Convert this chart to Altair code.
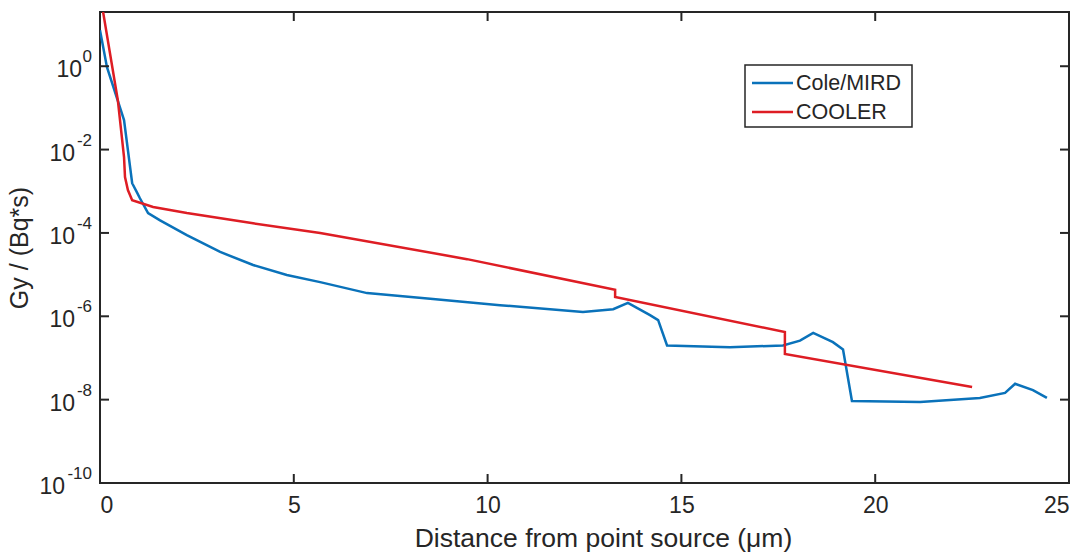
import altair as alt
import pandas as pd

# Cole/MIRD series
mird_x = [0.0, 0.18, 0.62, 0.83, 0.95, 1.03, 1.24, 1.55, 2.24, 3.10, 3.95, 4.82, 5.68,
          6.89, 8.59, 10.32, 12.46, 13.24, 13.62, 14.19, 14.40, 14.63, 16.25, 17.62,
          18.06, 18.40, 18.91, 19.17, 19.40, 21.16, 22.70, 23.35, 23.61, 24.07, 24.43]
mird_y = [7.3, 0.95, 0.051, 1.56e-3, 9.5e-4, 6.8e-4, 3.0e-4, 2.0e-4, 8.9e-5, 3.5e-5,
          1.7e-5, 9.8e-6, 6.6e-6, 3.6e-6, 2.6e-6, 1.85e-6, 1.26e-6, 1.48e-6, 2.1e-6,
          1.07e-6, 8.1e-7, 2.0e-7, 1.8e-7, 2.0e-7, 2.6e-7, 4.0e-7, 2.4e-7, 1.6e-7,
          9.3e-9, 8.8e-9, 1.1e-8, 1.45e-8, 2.4e-8, 1.7e-8, 1.1e-8]

# COOLER series
cooler_x = [0.08, 0.46, 0.62, 0.645, 0.72, 0.83, 1.37, 2.24, 3.95, 5.68, 9.47,
            13.29, 13.29, 17.67, 17.67, 22.50]
cooler_y = [20.0, 0.153, 6.6e-3, 2.2e-3, 1.07e-3, 6.1e-4, 4.2e-4, 3.0e-4, 1.7e-4,
            1.0e-4, 2.35e-5, 4.3e-6, 2.9e-6, 4.2e-7, 1.24e-7, 2.0e-8]

series_names = ["Cole/MIRD", "COOLER"]
series_colors = ["#0A72BA", "#DE1D24"]

x_ticks = [0, 5, 10, 15, 20, 25]
y_ticks = [1e-10, 1e-8, 1e-6, 1e-4, 1e-2, 1e0]
y_tick_base = ["10", "10", "10", "10", "10", "10"]
y_tick_exp = ["-10", "-8", "-6", "-4", "-2", "0"]

x_title = "Distance from point source (μm)"
y_title = "Gy / (Bq*s)"

W, H = 969, 471
FONT = "Liberation Sans"
TXT = "#262626"

df = pd.concat([
    pd.DataFrame({"x": mird_x, "y": mird_y, "series": series_names[0],
                  "order": range(len(mird_x))}),
    pd.DataFrame({"x": cooler_x, "y": cooler_y, "series": series_names[1],
                  "order": range(len(cooler_x))}),
])

xscale = alt.Scale(domain=[0, 25], nice=False, zero=False)
yscale = alt.Scale(type="log", domain=[1e-10, 20], nice=False)

lines = alt.Chart(df).mark_line(strokeWidth=2.5, clip=True).encode(
    x=alt.X("x:Q", scale=xscale,
            axis=alt.Axis(values=x_ticks, title=x_title, grid=False, domain=False,
                          ticks=False, labelFontSize=23, labelPadding=11,
                          titleFontSize=26.5, titleFontWeight="normal",
                          titleX=503, titleY=55, titleAlign="center",
                          titleBaseline="middle",
                          labelColor=TXT, titleColor=TXT,
                          labelFont=FONT, titleFont=FONT)),
    y=alt.Y("y:Q", scale=yscale,
            axis=alt.Axis(values=y_ticks, labels=False, title=y_title, grid=False,
                          domain=False, ticks=False, titleFontSize=25,
                          titleFontWeight="normal", titleX=-81, titleY=H / 2,
                          titleBaseline="middle", titleAlign="center", titleAngle=270,
                          titleColor=TXT, titleFont=FONT)),
    color=alt.Color("series:N",
                    scale=alt.Scale(domain=series_names, range=series_colors),
                    legend=None),
    order="order:Q",
)

xt = pd.DataFrame({"x": x_ticks[1:-1]})
yt = pd.DataFrame({"y": y_ticks[1:]})

xtick_bottom = alt.Chart(xt).mark_rule(color=TXT, strokeWidth=2).encode(
    x=alt.X("x:Q", scale=xscale), y=alt.value(H), y2=alt.value(H - 9))
xtick_top = alt.Chart(xt).mark_rule(color=TXT, strokeWidth=2).encode(
    x=alt.X("x:Q", scale=xscale), y=alt.value(0), y2=alt.value(9))
ytick_left = alt.Chart(yt).mark_rule(color=TXT, strokeWidth=2).encode(
    y=alt.Y("y:Q", scale=yscale), x=alt.value(0), x2=alt.value(9))
ytick_right = alt.Chart(yt).mark_rule(color=TXT, strokeWidth=2).encode(
    y=alt.Y("y:Q", scale=yscale), x=alt.value(W), x2=alt.value(W - 9))

# y tick labels: "10" with a raised exponent
ylab = pd.DataFrame({"v": y_ticks, "base": y_tick_base, "exp": y_tick_exp})
exp_layer = alt.Chart(ylab).mark_text(
    align="right", baseline="middle", fontSize=17, font=FONT, color=TXT, dy=-9
).encode(y=alt.Y("v:Q", scale=yscale), x=alt.value(-8), text="exp:N")
base_layers = []
for n, xpos in [(1, -18), (2, -25), (3, -35)]:
    base_layers.append(
        alt.Chart(ylab).transform_filter(f"length(datum.exp) == {n}").mark_text(
            align="right", baseline="middle", fontSize=23, font=FONT, color=TXT, dy=4
        ).encode(y=alt.Y("v:Q", scale=yscale), x=alt.value(xpos), text="base:N")
    )

# legend box drawn inside the plot
LX, LY, LW, LH = 645, 53, 167, 62
legend_box = alt.Chart(pd.DataFrame({"k": [0]})).mark_rect(
    fill="white", stroke=TXT, strokeWidth=1.5
).encode(x=alt.value(LX), x2=alt.value(LX + LW), y=alt.value(LY), y2=alt.value(LY + LH))
legend_layers = []
for i, (name, col) in enumerate(zip(series_names, series_colors)):
    ypos = LY + 18 + 29 * i
    row = pd.DataFrame({"s": [name]})
    legend_layers.append(
        alt.Chart(row).mark_rule(color=col, strokeWidth=2.5).encode(
            x=alt.value(LX + 7), x2=alt.value(LX + 48), y=alt.value(ypos)))
    legend_layers.append(
        alt.Chart(row).mark_text(align="left", baseline="middle", fontSize=21.5,
                                 font=FONT, color=TXT).encode(
            x=alt.value(LX + 51), y=alt.value(ypos + 1), text="s:N"))

chart = alt.layer(lines, xtick_bottom, xtick_top, ytick_left, ytick_right,
                  exp_layer, *base_layers, legend_box, *legend_layers).properties(
    width=W, height=H,
    autosize=alt.AutoSizeParams(type="none"),
    padding={"left": 100, "top": 12, "right": 14, "bottom": 69},
    background="white",
).configure_view(stroke=TXT, strokeWidth=2)

chart.save("out.html", embed_options={"renderer": "svg", "actions": False})
